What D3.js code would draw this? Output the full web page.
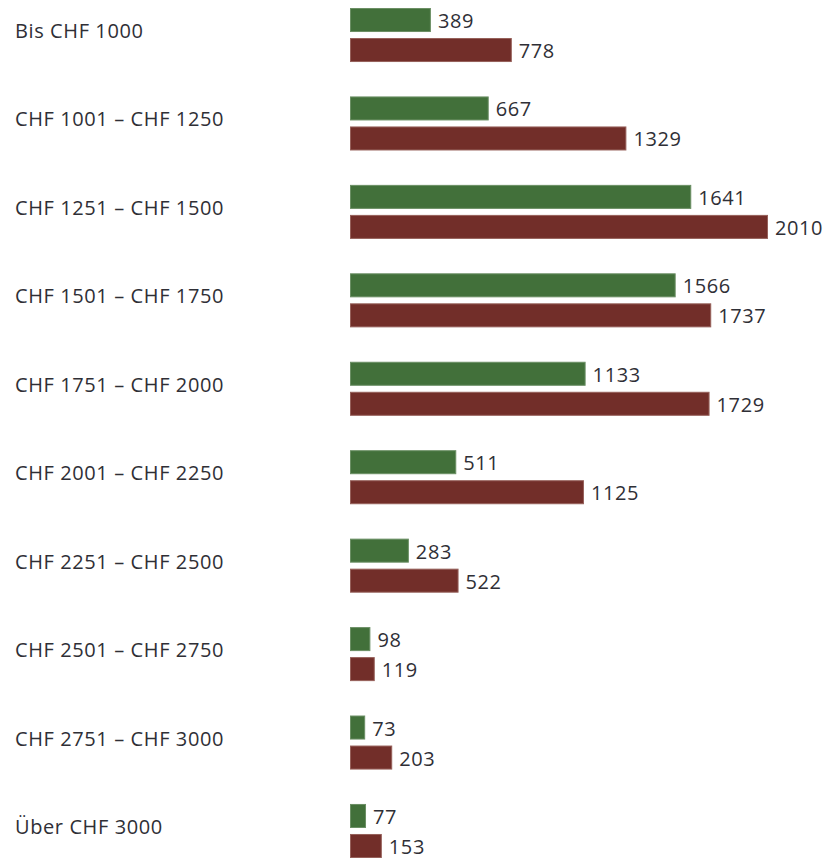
<!DOCTYPE html>
<html>
<head>
<meta charset="utf-8">
<script src="https://cdn.jsdelivr.net/npm/d3@7"></script>
<style>
  html, body { margin: 0; padding: 0; background: #fff; }
  svg { display: block; font-family: "Open Sans", "Noto Sans", sans-serif; }
</style>
</head>
<body>
<svg id="chart" width="823" height="859"></svg>
<script>
const categories = [
  "Bis CHF 1000",
  "CHF 1001 – CHF 1250",
  "CHF 1251 – CHF 1500",
  "CHF 1501 – CHF 1750",
  "CHF 1751 – CHF 2000",
  "CHF 2001 – CHF 2250",
  "CHF 2251 – CHF 2500",
  "CHF 2501 – CHF 2750",
  "CHF 2751 – CHF 3000",
  "Über CHF 3000"
];
const seriesGreen = [389, 667, 1641, 1566, 1133, 511, 283, 98, 73, 77];
const seriesRed = [778, 1329, 2010, 1737, 1729, 1125, 522, 119, 203, 153];
const seriesKeys = ["green", "red"];
const colors = { green: "#42703a", red: "#722e29" };
const strokes = { green: "#6b8f64", red: "#96605a" };

const svg = d3.select("#chart");
const x0 = 350;
const x = d3.scaleLinear().domain([0, 2010]).range([x0, x0 + 418]);
const y = d3.scaleBand().domain(categories).range([8, 858]).paddingInner(0.389).paddingOuter(0);
const ySub = d3.scaleBand().domain(seriesKeys).range([0, y.bandwidth()]).paddingInner(0.2);

const data = categories.map((c, i) => ({ cat: c, green: seriesGreen[i], red: seriesRed[i] }));

const g = svg.selectAll("g.group").data(data).join("g")
  .attr("class", "group")
  .attr("transform", d => `translate(0,${y(d.cat)})`);

g.append("text")
  .attr("x", 15)
  .attr("y", y.bandwidth() / 2 - 4)
  .attr("dy", "0.35em")
  .attr("fill", "#2f2f36")
  .style("font-size", "20px")
  .style("letter-spacing", "0.6px")
  .text(d => d.cat);

seriesKeys.forEach(k => {
  g.append("rect")
    .attr("x", x(0) + 0.5)
    .attr("y", ySub(k) + 0.5)
    .attr("width", d => Math.max(0, x(d[k]) - x(0) - 1))
    .attr("height", ySub.bandwidth() - 1)
    .attr("fill", colors[k])
    .attr("stroke", strokes[k])
    .attr("stroke-width", 1);
  g.append("text")
    .attr("x", d => x(d[k]) + 7)
    .attr("y", ySub(k) + ySub.bandwidth() / 2 + 1)
    .attr("dy", "0.35em")
    .attr("fill", "#2f2f36")
    .style("font-size", "20px")
    .style("letter-spacing", "0.6px")
    .text(d => d[k]);
});
</script>
</body>
</html>
